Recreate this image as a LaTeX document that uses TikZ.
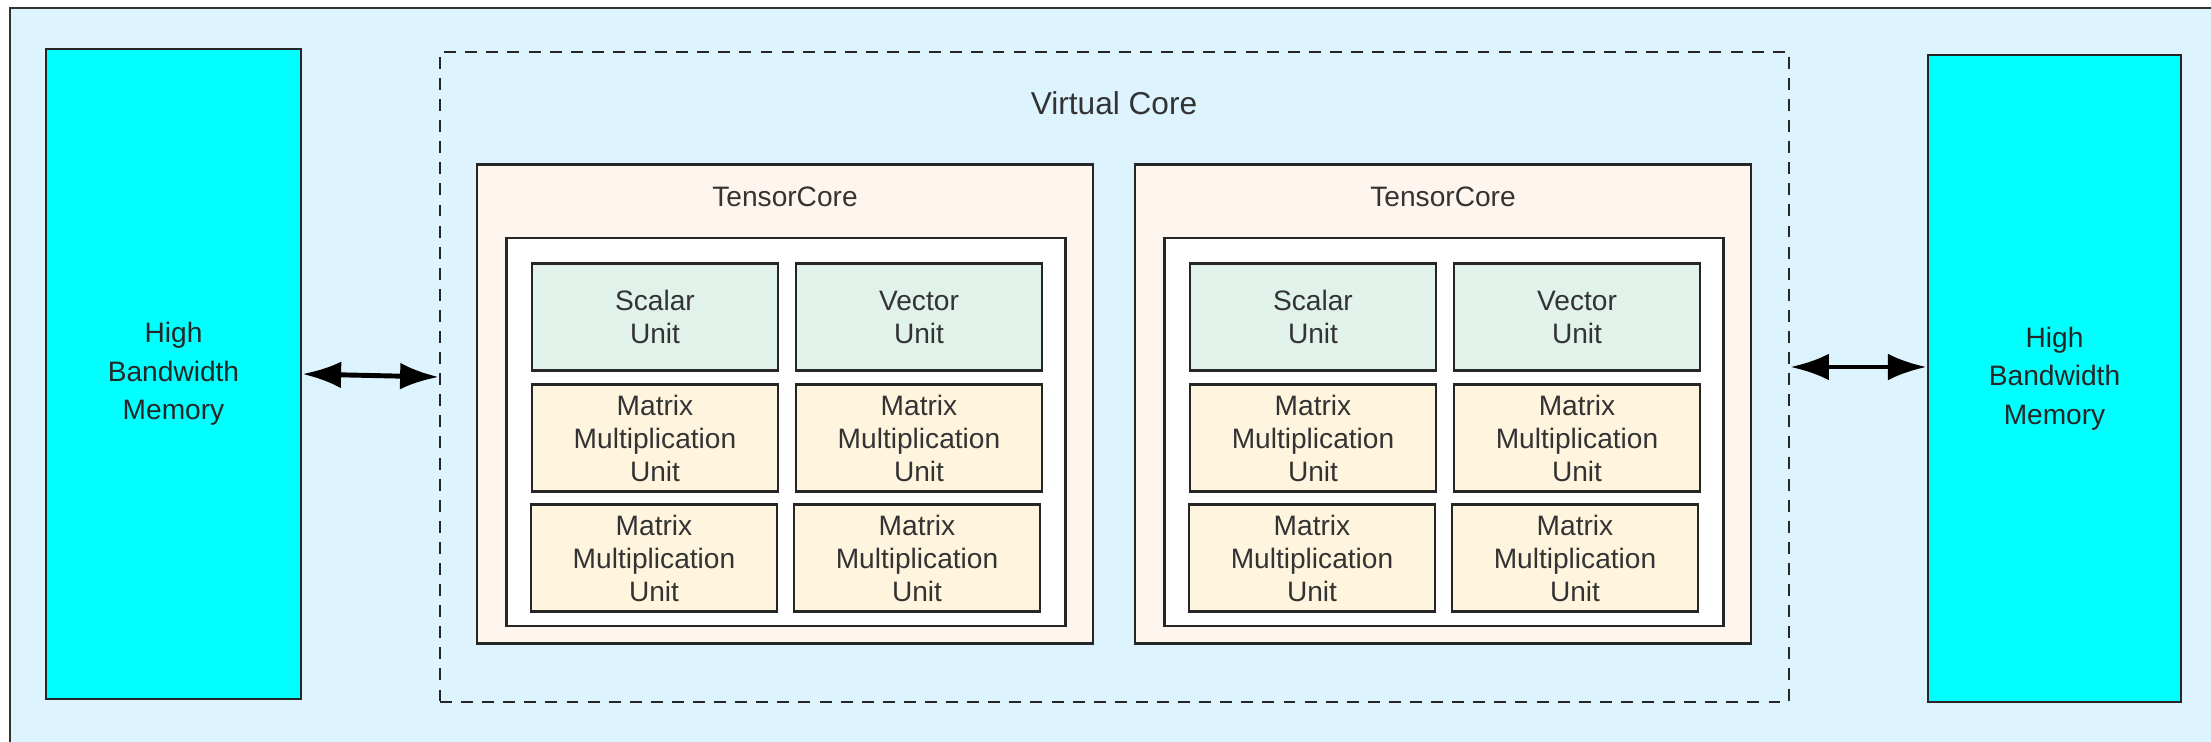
\documentclass[tikz,border=0pt]{standalone}
\usepackage{fontspec}
\setmainfont{Liberation Sans}
\usepackage{xcolor}
\usetikzlibrary{positioning,arrows.meta}

\definecolor{bgblue}{HTML}{DDF4FF}
\definecolor{hbmcyan}{HTML}{00FFFF}
\definecolor{tcpeach}{HTML}{FFF5EF}
\definecolor{unitgreen}{HTML}{E0F2E9}
\definecolor{unityellow}{HTML}{FFF5DF}
\definecolor{framegray}{HTML}{333333}

\begin{document}
\begin{tikzpicture}[>={Latex[length=11pt,width=7.6pt]},
  every node/.style={font=\fontsize{8}{9.4}\selectfont,text=black!80},
  hbm/.style={draw=black!85,line width=0.8pt,fill=hbmcyan,minimum width=2.55cm,minimum height=6.5cm,align=center,inner sep=0pt,font=\fontsize{8}{11}\selectfont,text=black!85},
  core/.style={draw=black!85,line width=0.7pt,fill=tcpeach,minimum width=6.16cm,minimum height=4.79cm,inner sep=0pt},
  tray/.style={draw=black!85,line width=0.7pt,fill=white,minimum width=5.59cm,minimum height=3.88cm,inner sep=0pt},
  unitbox/.style={draw=black!85,line width=0.7pt,minimum width=2.46cm,minimum height=1.07cm,align=center,inner sep=0pt},
  link/.style={<->,line width=1.4pt,black}]
\useasboundingbox (0,0) rectangle (22.11,7.42);
\fill[white] (0,0) rectangle (22.11,7.42);
\draw[draw=framegray,fill=bgblue,line width=0.7pt] (0.10,7.34) rectangle (22.6,-0.6);

% memories on both sides
\node[hbm] (hbmL) at (1.735,3.68) {High\\Bandwidth\\Memory};
\node[hbm,minimum width=2.53cm,minimum height=6.47cm] (hbmR) at (20.545,3.635) {High\\Bandwidth\\Memory};

% virtual core
\node[draw=black!85,line width=0.7pt,dash pattern=on 3.4pt off 2.6pt,minimum width=13.49cm,minimum height=6.5cm,inner sep=0pt] (vc) at (11.145,3.65) {};
\node (vclbl) at (11.14,6.39) {\fontsize{9}{11}\selectfont Virtual Core};

% two tensor cores with their units
\foreach \c/\cx in {1/7.85,2/14.43}{
  \node[core] (tc\c) at (\cx,3.38) {};
  \node (tclbl\c) at ([yshift=-3.35mm]tc\c.north) {TensorCore};
  \node[tray] (tray\c) at (\cx+0.01,3.10) {};
  \node[unitbox,fill=unitgreen] (sc\c) at (\cx-1.30,4.25) {Scalar\\Unit};
  \node[unitbox,fill=unitgreen] (vec\c) at (\cx+1.34,4.25) {Vector\\Unit};
  \node[unitbox,fill=unityellow] (mxa\c) at (\cx-1.30,3.04) {Matrix\\Multiplication\\Unit};
  \node[unitbox,fill=unityellow] (mxb\c) at (\cx+1.34,3.04) {Matrix\\Multiplication\\Unit};
  \node[unitbox,fill=unityellow] (mxc\c) at (\cx-1.31,1.84) {Matrix\\Multiplication\\Unit};
  \node[unitbox,fill=unityellow] (mxd\c) at (\cx+1.32,1.84) {Matrix\\Multiplication\\Unit};
}

\draw[link] (hbmL.east) -- (vc.west);
\draw[link] ([yshift=1mm]vc.east) -- ([yshift=1mm]vc.east -| hbmR.west);
\end{tikzpicture}
\end{document}
